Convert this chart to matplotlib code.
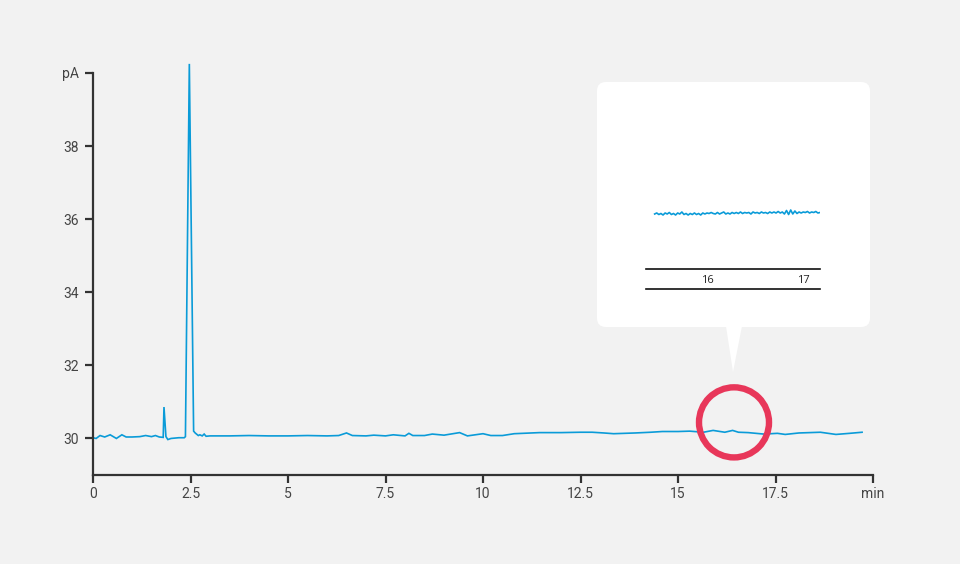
import numpy as np
import matplotlib
matplotlib.use("Agg")
import matplotlib.pyplot as plt
from matplotlib.patches import FancyBboxPatch, Polygon, Ellipse
from matplotlib.transforms import IdentityTransform

plt.rcParams['font.family'] = ['Roboto', 'DejaVu Sans']

# ---- data ----
time_min = [0, 0.08, 0.18, 0.3, 0.44, 0.6, 0.74, 0.85, 1.0, 1.2, 1.35, 1.5, 1.6, 1.7,
            1.8, 1.82, 1.87, 1.92, 2.0, 2.2, 2.34, 2.37, 2.47, 2.58, 2.62, 2.7, 2.74,
            2.8, 2.85, 2.9, 3.0, 3.5, 4.0, 4.5, 5.0, 5.5, 6.0, 6.3, 6.5, 6.65, 7.0, 7.2,
            7.5, 7.7, 8.0, 8.1, 8.2, 8.5, 8.7, 9.0, 9.4, 9.6, 10.0, 10.2, 10.5, 10.8,
            11.45, 12.0, 12.5, 12.8, 13.1, 13.35, 13.9, 14.3, 14.6, 15.0, 15.3, 15.65,
            15.9, 16.2, 16.4, 16.55, 16.8, 17.2, 17.55, 17.75, 18.1, 18.65, 19.05, 19.4, 19.72]
signal_pA = [30.02, 30.0, 30.08, 30.04, 30.1, 30.0, 30.1, 30.04, 30.04, 30.05, 30.08, 30.05,
             30.08, 30.04, 30.03, 30.86, 30.05, 29.97, 30.0, 30.02, 30.02, 30.05, 40.25, 30.2,
             30.15, 30.08, 30.1, 30.07, 30.12, 30.06, 30.07, 30.07, 30.08, 30.07, 30.07,
             30.08, 30.07, 30.08, 30.15, 30.08, 30.07, 30.09, 30.07, 30.1, 30.07, 30.14,
             30.08, 30.08, 30.12, 30.09, 30.16, 30.07, 30.13, 30.08, 30.08, 30.13, 30.16,
             30.16, 30.17, 30.17, 30.15, 30.13, 30.15, 30.17, 30.19, 30.19, 30.2, 30.17,
             30.22, 30.17, 30.22, 30.17, 30.16, 30.12, 30.14, 30.11, 30.15, 30.17, 30.11,
             30.14, 30.17]

x_ticks = [0, 2.5, 5, 7.5, 10, 12.5, 15, 17.5, 20]
x_labels = ['0', '2.5', '5', '7.5', '10', '12.5', '15', '17.5', 'min']
y_ticks = [30, 32, 34, 36, 38, 40]
y_labels = ['30', '32', '34', '36', '38', 'pA']

zoom_start, zoom_end = 15.45, 17.17
zoom_signal = [30.199, 30.201, 30.198, 30.200, 30.197, 30.201, 30.199, 30.202, 30.198, 30.200,
               30.197, 30.201, 30.199, 30.203, 30.198, 30.200, 30.197, 30.200, 30.198, 30.201,
               30.198, 30.200, 30.197, 30.201, 30.199, 30.201, 30.200, 30.202, 30.200, 30.199,
               30.202, 30.199, 30.201, 30.203, 30.199, 30.201, 30.199, 30.202, 30.200, 30.202,
               30.200, 30.203, 30.200, 30.202, 30.201, 30.202, 30.199, 30.203, 30.201, 30.202,
               30.200, 30.203, 30.201, 30.202, 30.200, 30.203, 30.201, 30.203, 30.201, 30.204,
               30.201, 30.203, 30.199, 30.206, 30.198, 30.207, 30.199, 30.205, 30.200, 30.203,
               30.201, 30.203, 30.202, 30.204, 30.201, 30.203, 30.202, 30.204, 30.201, 30.202]
zoom_ticks = [16, 17]

LINE = '#0a9bd8'
BG = '#f2f2f2'
AX = '#333333'
TXT = '#444444'
RED = '#e8375a'

W, H = 960, 564
fig = plt.figure(figsize=(W / 100, H / 100), dpi=100, facecolor=BG)

def frac(x0, y0, x1, y1):
    # image px (top-left origin) -> figure fraction rect
    return [x0 / W, (H - y1) / H, (x1 - x0) / W, (y1 - y0) / H]

ax = fig.add_axes(frac(93, 73, 873, 475))
ax.set_facecolor(BG)
ax.plot(time_min, signal_pA, color=LINE, lw=1.2, clip_on=False, solid_joinstyle='miter')
ax.set_xlim(0, 20)
ax.set_ylim(29, 40)
ax.spines['top'].set_visible(False)
ax.spines['right'].set_visible(False)
for s in ('left', 'bottom'):
    ax.spines[s].set_color(AX)
    ax.spines[s].set_linewidth(1.6)
ax.set_xticks(x_ticks)
ax.set_xticklabels(x_labels)
ax.set_yticks(y_ticks)
ax.set_yticklabels(y_labels)
ax.tick_params(axis='both', colors=AX, labelcolor=TXT, length=6, width=1.6,
               labelsize=10, direction='out')
ax.tick_params(axis='x', pad=3)
ax.tick_params(axis='y', pad=4)

# red circle highlighting region
ax.add_patch(Ellipse((16.436, 30.44), width=70 / 39, height=70 / 36.5, fill=False,
                     edgecolor=RED, lw=4.6, clip_on=False, zorder=5))

# callout box
box = FancyBboxPatch((597, H - 327), 273, 245, boxstyle='round,pad=0,rounding_size=9',
                     transform=IdentityTransform(), facecolor='white', edgecolor='none',
                     zorder=1)
fig.patches.append(box)
tri = Polygon([(726, H - 326), (742, H - 326), (733, H - 372)], closed=True,
              transform=IdentityTransform(), facecolor='white', edgecolor='none', zorder=1)
fig.patches.append(tri)

# inset axes
ins = fig.add_axes(frac(646, 200, 820, 269))
ins.set_zorder(3)
ins.patch.set_visible(False)
zoom_time = np.linspace(zoom_start, zoom_end, len(zoom_signal))
ins.plot(zoom_time, zoom_signal, color=LINE, lw=1.2)
ins.set_xlim(15.36, 17.17)
ins.set_ylim(30.089, 30.227)
for s in ('top', 'right', 'left'):
    ins.spines[s].set_visible(False)
ins.spines['bottom'].set_color('#111111')
ins.spines['bottom'].set_linewidth(1.2)
ins.set_yticks([])
ins.set_xticks(zoom_ticks)
ins.set_xticklabels([str(t) for t in zoom_ticks], fontfamily='Open Sans')
ins.tick_params(axis='x', length=0, pad=4, labelsize=8, labelcolor='#222222')
ins.plot([15.36, 17.17], [-20 / 69, -20 / 69], transform=ins.get_xaxis_transform(),
         color='#111111', lw=1.2, clip_on=False)

fig.savefig('out.png', dpi=100, facecolor=BG)
